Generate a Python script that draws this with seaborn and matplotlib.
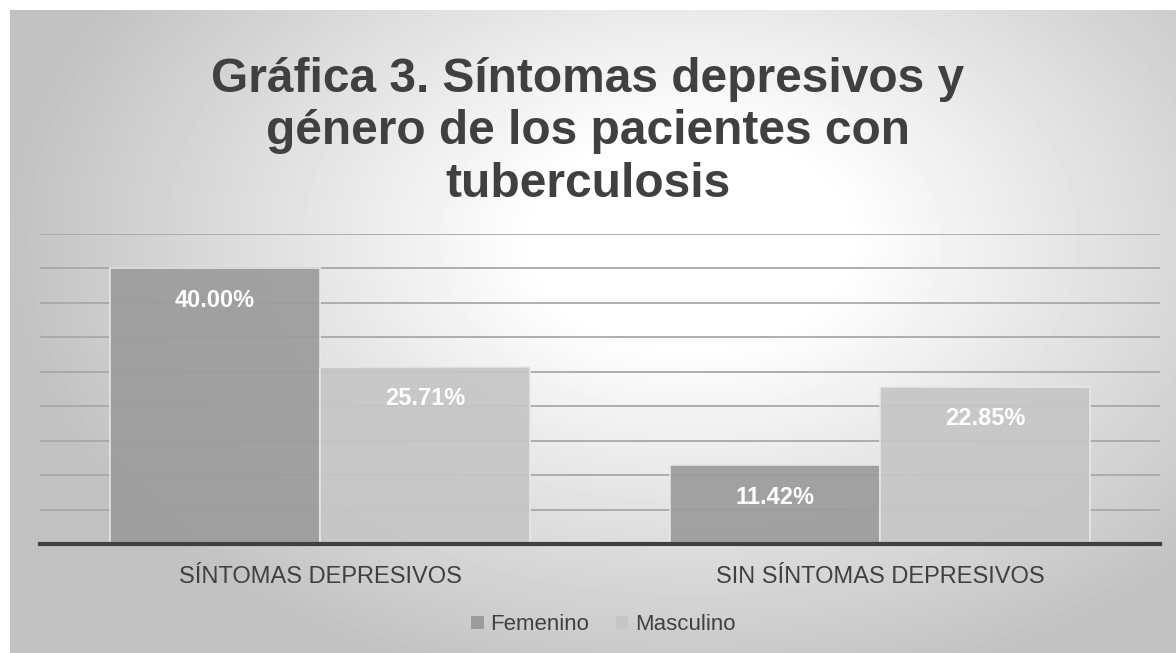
import numpy as np
import pandas as pd
import matplotlib.pyplot as plt
import seaborn as sns
from matplotlib.patches import Patch

# Data
categorias = ['SÍNTOMAS DEPRESIVOS', 'SIN SÍNTOMAS DEPRESIVOS']
femenino = [40.00, 11.42]
masculino = [25.71, 22.85]
generos = ['Femenino', 'Masculino']

df = pd.DataFrame({
    'Grupo': categorias * 2,
    'Genero': [generos[0]] * 2 + [generos[1]] * 2,
    'Porcentaje': femenino + masculino,
})

sns.set_theme(style='white')
plt.rcParams['font.family'] = ['Liberation Sans', 'DejaVu Sans']

fig = plt.figure(figsize=(11.76, 6.53), dpi=100)

# ---- radial gradient background of the chart area ----
bg = fig.add_axes([10 / 1176, 0, 1166 / 1176, 643 / 653], zorder=-10)
h, w = 643, 1166
yy, xx = np.mgrid[0:h, 0:w]
r = np.sqrt(((xx - 680) / 620.0) ** 2 + ((yy - 230) / 420.0) ** 2)
shade = np.clip(1.0 - 0.24 * np.clip(r - 0.25, 0, None) / 0.85, 0.76, 1.0)
bg.imshow(shade, cmap='gray', vmin=0, vmax=1, aspect='auto', origin='upper')
bg.axis('off')

ax = fig.add_axes([40 / 1176, 109 / 653, 1120 / 1176, 310 / 653])
ax.patch.set_alpha(0)

sns.barplot(data=df, x='Grupo', y='Porcentaje', hue='Genero',
            palette=['#9c9c9c', '#c6c6c6'], width=0.75, ax=ax,
            edgecolor='#e8e8e8', linewidth=1.2, alpha=0.93, zorder=3,
            legend=False)

ax.set_xlim(-0.5, 1.5)
ax.set_ylim(0, 45)
ax.set_yticks(np.arange(5, 46, 5))
ax.yaxis.grid(True, color='#a8a8a8', linewidth=1.3, zorder=1)
ax.set_axisbelow(True)
ax.tick_params(axis='y', left=False, labelleft=False)
ax.tick_params(axis='x', bottom=False, labelsize=17, labelcolor='#404040', pad=10)
ax.set_xlabel('')
ax.set_ylabel('')
for s in ['top', 'right', 'left']:
    ax.spines[s].set_visible(False)
ax.spines['bottom'].set_color('#404040')
ax.spines['bottom'].set_linewidth(3)
ax.spines['bottom'].set_zorder(5)

# value labels inside the bars, near the top
for cont in ax.containers:
    for bar in cont:
        val = bar.get_height()
        ax.annotate(f'{val:.2f}%', (bar.get_x() + bar.get_width() / 2, val),
                    xytext=(0, -32), textcoords='offset pixels',
                    ha='center', va='center', color='white', fontsize=17,
                    fontweight='bold', zorder=6)

fig.text(0.5, 1 - 132 / 653,
         'Gráfica 3. Síntomas depresivos y\ngénero de los pacientes con\ntuberculosis',
         ha='center', va='center', fontsize=34.5, fontweight='bold', color='#404040',
         linespacing=1.21)

# legend
handles = [Patch(facecolor='#9c9c9c', edgecolor='none'),
           Patch(facecolor='#c6c6c6', edgecolor='none')]
fig.legend(handles, generos, loc='center', bbox_to_anchor=(0.513, 1 - 625 / 653),
           ncol=2, frameon=False, fontsize=16, handlelength=0.55, handleheight=0.55,
           handletextpad=0.3, columnspacing=1.2, labelcolor='#404040')

fig.savefig('out.png', dpi=100, facecolor='white')
